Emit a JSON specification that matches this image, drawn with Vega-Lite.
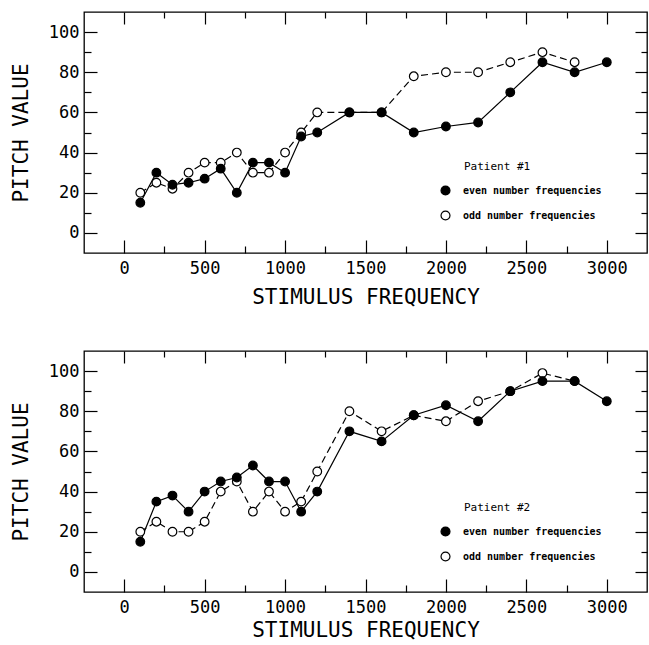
{
  "$schema": "https://vega.github.io/schema/vega-lite/v6.json",
  "padding": {"left": 9, "top": 10, "right": 1, "bottom": 0},
  "background": "white",
  "config": {
    "view": {"stroke": "black", "strokeWidth": 1.3},
    "axis": {"domain": false, "grid": false, "tickColor": "black", "tickWidth": 1.2, "labelFont": "DejaVu Sans Mono", "labelFontSize": 17, "labelColor": "black", "titleFont": "DejaVu Sans Mono", "titleFontSize": 21, "titleFontWeight": "normal", "titleColor": "black", "labelFlush": false, "labelOverlap": false, "format": "d"},
    "legend": {"titleFont": "DejaVu Sans Mono", "titleFontSize": 11, "titleFontWeight": "normal", "titleColor": "black", "labelFont": "DejaVu Sans Mono", "labelFontSize": 10, "labelFontWeight": "bold", "labelColor": "black", "labelOffset": 12, "rowPadding": 10, "titlePadding": 13, "padding": 0, "labelLimit": 300, "symbolType": "circle", "symbolSize": 80, "symbolStrokeColor": "black", "symbolStrokeWidth": 1.2}
  },
  "spacing": 41,
  "resolve": {"scale": {"fill": "independent"}, "legend": {"fill": "independent"}},
  "vconcat": [
    {
      "width": 563, "height": 241,
      "data": {"values": [
        {"freq": 100, "pitch": 20, "series": "odd number frequencies"},
        {"freq": 200, "pitch": 25, "series": "odd number frequencies"},
        {"freq": 300, "pitch": 22, "series": "odd number frequencies"},
        {"freq": 400, "pitch": 30, "series": "odd number frequencies"},
        {"freq": 500, "pitch": 35, "series": "odd number frequencies"},
        {"freq": 600, "pitch": 35, "series": "odd number frequencies"},
        {"freq": 700, "pitch": 40, "series": "odd number frequencies"},
        {"freq": 800, "pitch": 30, "series": "odd number frequencies"},
        {"freq": 900, "pitch": 30, "series": "odd number frequencies"},
        {"freq": 1000, "pitch": 40, "series": "odd number frequencies"},
        {"freq": 1100, "pitch": 50, "series": "odd number frequencies"},
        {"freq": 1200, "pitch": 60, "series": "odd number frequencies"},
        {"freq": 1400, "pitch": 60, "series": "odd number frequencies"},
        {"freq": 1600, "pitch": 60, "series": "odd number frequencies"},
        {"freq": 1800, "pitch": 78, "series": "odd number frequencies"},
        {"freq": 2000, "pitch": 80, "series": "odd number frequencies"},
        {"freq": 2200, "pitch": 80, "series": "odd number frequencies"},
        {"freq": 2400, "pitch": 85, "series": "odd number frequencies"},
        {"freq": 2600, "pitch": 90, "series": "odd number frequencies"},
        {"freq": 2800, "pitch": 85, "series": "odd number frequencies"},
        {"freq": 100, "pitch": 15, "series": "even number frequencies"},
        {"freq": 200, "pitch": 30, "series": "even number frequencies"},
        {"freq": 300, "pitch": 24, "series": "even number frequencies"},
        {"freq": 400, "pitch": 25, "series": "even number frequencies"},
        {"freq": 500, "pitch": 27, "series": "even number frequencies"},
        {"freq": 600, "pitch": 32, "series": "even number frequencies"},
        {"freq": 700, "pitch": 20, "series": "even number frequencies"},
        {"freq": 800, "pitch": 35, "series": "even number frequencies"},
        {"freq": 900, "pitch": 35, "series": "even number frequencies"},
        {"freq": 1000, "pitch": 30, "series": "even number frequencies"},
        {"freq": 1100, "pitch": 48, "series": "even number frequencies"},
        {"freq": 1200, "pitch": 50, "series": "even number frequencies"},
        {"freq": 1400, "pitch": 60, "series": "even number frequencies"},
        {"freq": 1600, "pitch": 60, "series": "even number frequencies"},
        {"freq": 1800, "pitch": 50, "series": "even number frequencies"},
        {"freq": 2000, "pitch": 53, "series": "even number frequencies"},
        {"freq": 2200, "pitch": 55, "series": "even number frequencies"},
        {"freq": 2400, "pitch": 70, "series": "even number frequencies"},
        {"freq": 2600, "pitch": 85, "series": "even number frequencies"},
        {"freq": 2800, "pitch": 80, "series": "even number frequencies"},
        {"freq": 3000, "pitch": 85, "series": "even number frequencies"}
      ]},
      "layer": [
        {
          "transform": [{"filter": "datum.series === 'even number frequencies'"}],
          "mark": {"type": "line", "color": "black", "strokeWidth": 1.2},
          "encoding": {
            "x": {"field": "freq", "type": "quantitative", "scale": {"domain": [-250, 3250], "nice": false, "zero": false},
              "axis": {"orient": "bottom", "title": "STIMULUS FREQUENCY", "values": [0, 250, 500, 750, 1000, 1250, 1500, 1750, 2000, 2250, 2500, 2750, 3000],
                "tickSize": {"condition": {"test": "datum.value % 500 === 0", "value": -13}, "value": -7},
                "labelExpr": "datum.value % 500 === 0 ? datum.label : ''", "labelPadding": 20, "titlePadding": 4}},
            "y": {"field": "pitch", "type": "quantitative", "scale": {"domain": [-10, 110], "nice": false, "zero": false},
              "axis": {"orient": "left", "title": "PITCH VALUE", "values": [0, 10, 20, 30, 40, 50, 60, 70, 80, 90, 100],
                "tickSize": {"condition": {"test": "datum.value % 20 === 0", "value": -13}, "value": -7},
                "labelExpr": "datum.value % 20 === 0 ? datum.label : ''", "labelPadding": 18, "titlePadding": 17}}
          }
        },
        {
          "transform": [{"filter": "datum.series === 'odd number frequencies'"}],
          "mark": {"type": "line", "color": "black", "strokeWidth": 1.2, "strokeDash": [7, 4]},
          "encoding": {
            "x": {"field": "freq", "type": "quantitative", "axis": null},
            "y": {"field": "pitch", "type": "quantitative", "axis": null}
          }
        },
        {
          "mark": {"type": "point", "shape": "circle", "filled": true, "stroke": "black", "strokeWidth": 1.2, "size": 75, "opacity": 1},
          "encoding": {
            "x": {"field": "freq", "type": "quantitative",
              "axis": {"orient": "top", "title": null, "labels": false, "values": [0, 250, 500, 750, 1000, 1250, 1500, 1750, 2000, 2250, 2500, 2750, 3000],
                "tickSize": {"condition": {"test": "datum.value % 500 === 0", "value": -12}, "value": -6}}},
            "y": {"field": "pitch", "type": "quantitative",
              "axis": {"orient": "right", "title": null, "labels": false, "values": [0, 10, 20, 30, 40, 50, 60, 70, 80, 90, 100],
                "tickSize": {"condition": {"test": "datum.value % 20 === 0", "value": -12}, "value": -6}}},
            "fill": {"field": "series", "type": "nominal", "scale": {"domain": ["even number frequencies", "odd number frequencies"], "range": ["black", "white"]},
              "legend": {"title": "\u2800\u2800\u2800Patient #1", "orient": "none", "legendX": 356, "legendY": 149}}
          }
        }
      ],
      "resolve": {"axis": {"x": "independent", "y": "independent"}}
    },
    {
      "width": 563, "height": 241,
      "data": {"values": [
        {"freq": 100, "pitch": 20, "series": "odd number frequencies"},
        {"freq": 200, "pitch": 25, "series": "odd number frequencies"},
        {"freq": 300, "pitch": 20, "series": "odd number frequencies"},
        {"freq": 400, "pitch": 20, "series": "odd number frequencies"},
        {"freq": 500, "pitch": 25, "series": "odd number frequencies"},
        {"freq": 600, "pitch": 40, "series": "odd number frequencies"},
        {"freq": 700, "pitch": 45, "series": "odd number frequencies"},
        {"freq": 800, "pitch": 30, "series": "odd number frequencies"},
        {"freq": 900, "pitch": 40, "series": "odd number frequencies"},
        {"freq": 1000, "pitch": 30, "series": "odd number frequencies"},
        {"freq": 1100, "pitch": 35, "series": "odd number frequencies"},
        {"freq": 1200, "pitch": 50, "series": "odd number frequencies"},
        {"freq": 1400, "pitch": 80, "series": "odd number frequencies"},
        {"freq": 1600, "pitch": 70, "series": "odd number frequencies"},
        {"freq": 1800, "pitch": 78, "series": "odd number frequencies"},
        {"freq": 2000, "pitch": 75, "series": "odd number frequencies"},
        {"freq": 2200, "pitch": 85, "series": "odd number frequencies"},
        {"freq": 2400, "pitch": 90, "series": "odd number frequencies"},
        {"freq": 2600, "pitch": 99, "series": "odd number frequencies"},
        {"freq": 2800, "pitch": 95, "series": "odd number frequencies"},
        {"freq": 100, "pitch": 15, "series": "even number frequencies"},
        {"freq": 200, "pitch": 35, "series": "even number frequencies"},
        {"freq": 300, "pitch": 38, "series": "even number frequencies"},
        {"freq": 400, "pitch": 30, "series": "even number frequencies"},
        {"freq": 500, "pitch": 40, "series": "even number frequencies"},
        {"freq": 600, "pitch": 45, "series": "even number frequencies"},
        {"freq": 700, "pitch": 47, "series": "even number frequencies"},
        {"freq": 800, "pitch": 53, "series": "even number frequencies"},
        {"freq": 900, "pitch": 45, "series": "even number frequencies"},
        {"freq": 1000, "pitch": 45, "series": "even number frequencies"},
        {"freq": 1100, "pitch": 30, "series": "even number frequencies"},
        {"freq": 1200, "pitch": 40, "series": "even number frequencies"},
        {"freq": 1400, "pitch": 70, "series": "even number frequencies"},
        {"freq": 1600, "pitch": 65, "series": "even number frequencies"},
        {"freq": 1800, "pitch": 78, "series": "even number frequencies"},
        {"freq": 2000, "pitch": 83, "series": "even number frequencies"},
        {"freq": 2200, "pitch": 75, "series": "even number frequencies"},
        {"freq": 2400, "pitch": 90, "series": "even number frequencies"},
        {"freq": 2600, "pitch": 95, "series": "even number frequencies"},
        {"freq": 2800, "pitch": 95, "series": "even number frequencies"},
        {"freq": 3000, "pitch": 85, "series": "even number frequencies"}
      ]},
      "layer": [
        {
          "transform": [{"filter": "datum.series === 'even number frequencies'"}],
          "mark": {"type": "line", "color": "black", "strokeWidth": 1.2},
          "encoding": {
            "x": {"field": "freq", "type": "quantitative", "scale": {"domain": [-250, 3250], "nice": false, "zero": false},
              "axis": {"orient": "bottom", "title": "STIMULUS FREQUENCY", "values": [0, 250, 500, 750, 1000, 1250, 1500, 1750, 2000, 2250, 2500, 2750, 3000],
                "tickSize": {"condition": {"test": "datum.value % 500 === 0", "value": -13}, "value": -7},
                "labelExpr": "datum.value % 500 === 0 ? datum.label : ''", "labelPadding": 20, "titlePadding": -2}},
            "y": {"field": "pitch", "type": "quantitative", "scale": {"domain": [-10, 110], "nice": false, "zero": false},
              "axis": {"orient": "left", "title": "PITCH VALUE", "values": [0, 10, 20, 30, 40, 50, 60, 70, 80, 90, 100],
                "tickSize": {"condition": {"test": "datum.value % 20 === 0", "value": -13}, "value": -7},
                "labelExpr": "datum.value % 20 === 0 ? datum.label : ''", "labelPadding": 18, "titlePadding": 17}}
          }
        },
        {
          "transform": [{"filter": "datum.series === 'odd number frequencies'"}],
          "mark": {"type": "line", "color": "black", "strokeWidth": 1.2, "strokeDash": [7, 4]},
          "encoding": {
            "x": {"field": "freq", "type": "quantitative", "axis": null},
            "y": {"field": "pitch", "type": "quantitative", "axis": null}
          }
        },
        {
          "mark": {"type": "point", "shape": "circle", "filled": true, "stroke": "black", "strokeWidth": 1.2, "size": 75, "opacity": 1},
          "encoding": {
            "x": {"field": "freq", "type": "quantitative",
              "axis": {"orient": "top", "title": null, "labels": false, "values": [0, 250, 500, 750, 1000, 1250, 1500, 1750, 2000, 2250, 2500, 2750, 3000],
                "tickSize": {"condition": {"test": "datum.value % 500 === 0", "value": -12}, "value": -6}}},
            "y": {"field": "pitch", "type": "quantitative",
              "axis": {"orient": "right", "title": null, "labels": false, "values": [0, 10, 20, 30, 40, 50, 60, 70, 80, 90, 100],
                "tickSize": {"condition": {"test": "datum.value % 20 === 0", "value": -12}, "value": -6}}},
            "fill": {"field": "series", "type": "nominal", "scale": {"domain": ["even number frequencies", "odd number frequencies"], "range": ["black", "white"]},
              "legend": {"title": "\u2800\u2800\u2800Patient #2", "orient": "none", "legendX": 356, "legendY": 151}}
          }
        }
      ],
      "resolve": {"axis": {"x": "independent", "y": "independent"}}
    }
  ]
}
